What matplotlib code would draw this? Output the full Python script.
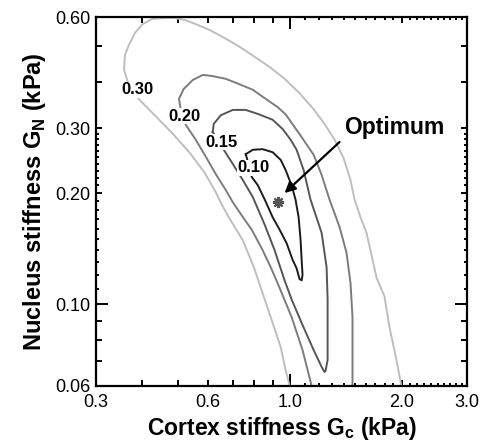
import numpy as np
import matplotlib
matplotlib.use("Agg")
import matplotlib.pyplot as plt
from matplotlib.ticker import FixedLocator, FixedFormatter, NullFormatter

plt.rcParams['font.family'] = 'Liberation Sans'
plt.rcParams['mathtext.fontset'] = 'custom'
plt.rcParams['mathtext.rm'] = 'Liberation Sans'
plt.rcParams['mathtext.bf'] = 'Liberation Sans:bold'

# --- contour traces (G_c kPa, G_N kPa) ---
c030_x = [0.998, 0.973, 0.944, 0.898, 0.844, 0.799, 0.746, 0.684, 0.655, 0.631, 0.589, 0.537,
          0.481, 0.432, 0.394, 0.370, 0.357, 0.359, 0.368, 0.382, 0.401, 0.425, 0.460, 0.490,
          0.521, 0.557, 0.608, 0.667, 0.732, 0.803, 0.882, 0.967, 1.061, 1.151, 1.239, 1.319,
          1.394, 1.456, 1.493, 1.549, 1.608, 1.658, 1.711, 1.797, 1.854, 1.936, 1.997]
c030_y = [0.060, 0.0663, 0.0765, 0.0889, 0.107, 0.126, 0.149, 0.172, 0.186, 0.201, 0.227, 0.257,
          0.291, 0.325, 0.357, 0.385, 0.431, 0.473, 0.504, 0.543, 0.574, 0.593, 0.596, 0.596,
          0.589, 0.574, 0.553, 0.526, 0.498, 0.468, 0.439, 0.408, 0.373, 0.340, 0.308, 0.279,
          0.249, 0.217, 0.192, 0.172, 0.156, 0.136, 0.118, 0.105, 0.0867, 0.0706, 0.060]

c020_x = [1.144, 1.081, 1.010, 0.926, 0.887, 0.844, 0.789, 0.741, 0.701, 0.671, 0.631, 0.593,
          0.557, 0.524, 0.508, 0.502, 0.517, 0.547, 0.582, 0.619, 0.671, 0.728, 0.794, 0.860,
          0.926, 0.973, 1.061, 1.158, 1.217, 1.278, 1.360, 1.420, 1.456, 1.474, 1.474, 1.474]
c020_y = [0.060, 0.0751, 0.0923, 0.114, 0.126, 0.140, 0.159, 0.174, 0.189, 0.204, 0.225, 0.251,
          0.279, 0.306, 0.336, 0.360, 0.383, 0.405, 0.418, 0.415, 0.408, 0.395, 0.381, 0.360,
          0.342, 0.327, 0.289, 0.254, 0.224, 0.192, 0.162, 0.138, 0.114, 0.0923, 0.0751, 0.060]

c015_x = [0.619, 0.623, 0.651, 0.701, 0.760, 0.824, 0.898, 0.956, 1.004, 1.042, 1.088, 1.136,
          1.217, 1.255, 1.263, 1.263, 1.263, 1.247, 1.239, 1.217, 1.158, 1.081, 1.010, 0.967,
          0.909, 0.855, 0.794, 0.746, 0.701, 0.663, 0.619]
c015_y = [0.293, 0.308, 0.325, 0.336, 0.336, 0.327, 0.316, 0.298, 0.279, 0.262, 0.231, 0.192,
          0.156, 0.126, 0.103, 0.0835, 0.0706, 0.0659, 0.0655, 0.0676, 0.0751, 0.0878, 0.103, 0.116,
          0.140, 0.164, 0.195, 0.217, 0.240, 0.262, 0.293]

c010_x = [0.760, 0.794, 0.844, 0.898, 0.944, 0.973, 1.010, 1.035, 1.055, 1.068, 1.075, 1.081,
          1.075, 1.061, 1.042, 1.016, 0.980, 0.938, 0.898, 0.855, 0.819, 0.789, 0.760]
c010_y = [0.255, 0.262, 0.263, 0.258, 0.246, 0.231, 0.210, 0.192, 0.172, 0.149, 0.132, 0.120,
          0.116, 0.117, 0.125, 0.132, 0.146, 0.159, 0.172, 0.192, 0.210, 0.221, 0.255]

levels = ["0.30", "0.20", "0.15", "0.10"]
label_x = [0.387, 0.521, 0.655, 0.799]
label_y = [0.381, 0.323, 0.275, 0.234]

opt_x, opt_y = 0.926, 0.189
arrow_tail = (1.36, 0.275)
arrow_head = (0.967, 0.200)
opt_text_pos = (1.403, 0.289)

x_major = [0.3, 0.6, 1.0, 2.0, 3.0]
x_major_lbl = ["0.3", "0.6", "1.0", "2.0", "3.0"]
x_minor = [0.4, 0.5, 0.7, 0.8, 0.9] + [1.1, 1.2, 1.3, 1.4, 1.5, 1.6, 1.7, 1.8, 1.9] + \
          [2.1, 2.2, 2.3, 2.4, 2.5, 2.6, 2.7, 2.8, 2.9]
y_major = [0.06, 0.10, 0.20, 0.30, 0.60]
y_major_lbl = ["0.06", "0.10", "0.20", "0.30", "0.60"]
y_minor = [0.07, 0.08, 0.09] + [0.11, 0.12, 0.13, 0.14, 0.15, 0.16, 0.17, 0.18, 0.19] + \
          [0.21, 0.22, 0.23, 0.24, 0.25, 0.26, 0.27, 0.28, 0.29] + [0.4, 0.5]

fig = plt.figure(figsize=(4.86, 4.46), dpi=100)
ax = fig.add_axes([96/486, 60/446, 371/486, 369/446])

ax.set_xscale('log')
ax.set_yscale('log')
ax.set_xlim(0.3, 3.0)
ax.set_ylim(0.06, 0.60)

traces = [(c030_x, c030_y, '#bebebe'), (c020_x, c020_y, '#7c7c7c'),
          (c015_x, c015_y, '#565656'), (c010_x, c010_y, '#1c1c1c')]
for xs, ys, col in traces:
    ax.plot(xs, ys, color=col, lw=1.4, solid_joinstyle='round', clip_on=True)

for lab, lx, ly in zip(levels, label_x, label_y):
    ax.text(lx, ly, lab, fontsize=12, fontweight='bold', ha='center', va='center',
            bbox=dict(facecolor='white', edgecolor='none', pad=0.5))

ax.plot([opt_x], [opt_y], marker=(8, 2, 0), color='#555555', ms=8, mew=1.6)

ax.annotate('', xy=arrow_head, xytext=arrow_tail,
            arrowprops=dict(arrowstyle='-|>', color='black', lw=1.6, mutation_scale=16,
                            shrinkA=0, shrinkB=0))
ax.text(opt_text_pos[0], opt_text_pos[1], 'Optimum', fontsize=16.5, fontweight='bold',
        ha='left', va='baseline')

# ticks
ax.xaxis.set_major_locator(FixedLocator(x_major))
ax.xaxis.set_major_formatter(FixedFormatter(x_major_lbl))
ax.xaxis.set_minor_locator(FixedLocator(x_minor))
ax.xaxis.set_minor_formatter(NullFormatter())
ax.yaxis.set_major_locator(FixedLocator(y_major))
ax.yaxis.set_major_formatter(FixedFormatter(y_major_lbl))
ax.yaxis.set_minor_locator(FixedLocator(y_minor))
ax.yaxis.set_minor_formatter(NullFormatter())

ax.tick_params(which='both', direction='in', top=True, right=True, width=1.4, color='black')
ax.tick_params(which='major', length=4.3, labelsize=13)
ax.tick_params(which='minor', length=2.5)
ax.tick_params(axis='x', which='major', pad=6)
ax.tick_params(axis='y', which='major', pad=4)

def set_len(ticks, locs, wanted, length):
    for t, v in zip(ticks, locs):
        if any(abs(v - w) < 1e-9 for w in wanted):
            t.tick1line.set_markersize(length)
            t.tick2line.set_markersize(length)

set_len(ax.xaxis.get_major_ticks(len(x_major)), x_major, [1.0], 8.6)
set_len(ax.yaxis.get_major_ticks(len(y_major)), y_major, [0.10], 8.6)
set_len(ax.xaxis.get_minor_ticks(len(x_minor)), x_minor, [0.4, 0.5, 0.7, 0.8, 0.9], 4.3)
set_len(ax.yaxis.get_minor_ticks(len(y_minor)), y_minor, [0.07, 0.08, 0.09, 0.4, 0.5], 4.3)

for s in ax.spines.values():
    s.set_linewidth(1.6)

ax.set_xlabel(r'Cortex stiffness G$_{\mathbf{c}}$ (kPa)', fontsize=16.5, fontweight='bold', labelpad=3)
ax.set_ylabel(r'Nucleus stiffness G$_{\mathbf{N}}$ (kPa)', fontsize=17, fontweight='bold', labelpad=5)

fig.savefig('out.png', dpi=100, facecolor='white')
